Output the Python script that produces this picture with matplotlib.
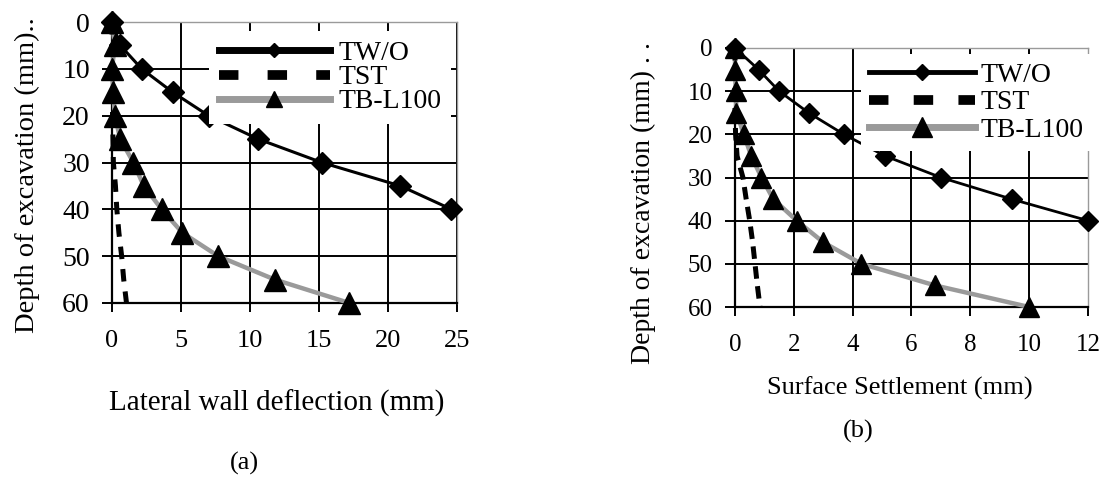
import matplotlib
matplotlib.use("Agg")
import matplotlib.pyplot as plt
from matplotlib.lines import Line2D

plt.rcParams['font.family'] = ['Liberation Serif', 'DejaVu Serif']

# ---------------- data ----------------
depth_full = [0, 5, 10, 15, 20, 25, 30, 35, 40, 45, 50, 55, 60]
depth_two = [0, 5, 10, 15, 20, 25, 30, 35, 40]

# (a) Lateral wall deflection (mm)
a_two = [0, 0.6, 2.15, 4.4, 7.0, 10.6, 15.2, 20.9, 24.6]
a_tst = [0, 0, 0, 0.02, 0.04, 0.07, 0.1, 0.25, 0.35, 0.5, 0.7, 0.85, 1.05]
a_tb = [0, 0.2, 0.0, 0.1, 0.2, 0.6, 1.55, 2.3, 3.6, 5.1, 7.7, 11.8, 17.2]

# (b) Surface settlement (mm)
b_two = [0, 0.8, 1.5, 2.5, 3.7, 5.1, 7.0, 9.4, 12.0]
b_tst = [0, 0, 0, 0, 0.02, 0.07, 0.27, 0.38, 0.5, 0.6, 0.68, 0.76, 0.85]
b_tb = [0, 0, 0.03, 0.05, 0.3, 0.55, 0.9, 1.3, 2.1, 3.0, 4.3, 6.8, 10.0]

series_names = ["TW/O", "TST", "TB-L100"]
y_ticks = [0, 10, 20, 30, 40, 50, 60]
a_xticks = [0, 5, 10, 15, 20, 25]
b_xticks = [0, 2, 4, 6, 8, 10, 12]

W, H = 1107, 497
fig = plt.figure(figsize=(W / 100, H / 100), dpi=100)


def rect(l, t, r, b):
    return [l / W, 1 - b / H, (r - l) / W, (b - t) / H]


GRAY = '#9a9a9a'


def setup(ax, xticks, ylabsize, xlabsize, xpad, ypad):
    ax.set_xlim(xticks[0], xticks[-1])
    ax.set_ylim(y_ticks[-1], y_ticks[0])
    ax.set_xticks(xticks)
    ax.set_yticks(y_ticks)
    ax.tick_params(axis='y', direction='out', length=7, width=1.4,
                   labelsize=ylabsize, pad=ypad)
    ax.tick_params(axis='x', direction='out', length=6.5, width=1.4,
                   labelsize=xlabsize, pad=xpad)
    ax.grid(True, color='black', linewidth=1.4)
    ax.get_ygridlines()[0].set_visible(False)
    ax.set_axisbelow(True)
    for s in ['left', 'bottom']:
        ax.spines[s].set_linewidth(1.6)
        ax.spines[s].set_color('black')
    for s in ['top', 'right']:
        ax.spines[s].set_linewidth(1.0)
        ax.spines[s].set_color(GRAY)


def make_handles(lw_line, ms_d, lw_dash, dash, lw_gray, ms_t):
    hs = [Line2D([], [], color='black', lw=lw_line, marker='D', ms=ms_d,
                 markevery=[1], mfc='black', mec='black'),
          Line2D([], [], color='black', lw=lw_dash, dashes=dash),
          Line2D([], [], color=GRAY, lw=lw_gray, marker='^', ms=ms_t,
                 markevery=[1], mfc='black', mec='black')]
    return hs


# ---------------- panel (a) ----------------
ax1 = fig.add_axes(rect(112, 22, 457, 303))
setup(ax1, a_xticks, 20, 19, 13, 9)
ax1.plot(a_tb, depth_full, color=GRAY, lw=3.2, marker='^', ms=16,
         mfc='black', mec='black', zorder=3, clip_on=False)
ax1.plot(a_tst, depth_full, color='black', lw=3.6, dashes=(2.5, 2.0),
         zorder=4, clip_on=False)
ax1.plot(a_two, depth_two, color='black', lw=2.2, marker='D', ms=11,
         mfc='black', mec='black', zorder=5, clip_on=False)

h_a = make_handles(5, 7, 7, (2, 3), 5, 12)
leg1 = ax1.legend(h_a, series_names, loc='upper left',
                  bbox_to_anchor=(209 / W, 1 - 31 / H),
                  bbox_transform=fig.transFigure, fontsize=20,
                  frameon=True, facecolor='white', edgecolor='none',
                  framealpha=1, fancybox=False, borderpad=0.35,
                  borderaxespad=0, handlelength=4.0, handletextpad=0.3,
                  labelspacing=-0.05, numpoints=1)
leg1.set_zorder(10)

fig.text(27 / W, 1 - 175 / H, "Depth of excavation (mm)..", rotation=90,
         ha='center', va='center', fontsize=20.5)
fig.text(277 / W, 1 - 403 / H, "Lateral wall deflection (mm)",
         ha='center', va='center', fontsize=21)
fig.text(244 / W, 1 - 463 / H, "(a)", ha='center', va='center', fontsize=19)

# ---------------- panel (b) ----------------
ax2 = fig.add_axes(rect(735, 48, 1088, 307))
setup(ax2, b_xticks, 18, 18, 13, 9)
ax2.get_xgridlines()[-1].set_visible(False)
ax2.plot(b_tb, depth_full, color=GRAY, lw=3.2, marker='^', ms=15,
         mfc='black', mec='black', zorder=3, clip_on=False)
ax2.plot(b_tst, depth_full, color='black', lw=3.6, dashes=(2.5, 1.5),
         zorder=4, clip_on=False)
ax2.plot(b_two, depth_two, color='black', lw=2.0, marker='D', ms=10,
         mfc='black', mec='black', zorder=5, clip_on=False)

h_b = make_handles(3.5, 8.5, 7, (2, 2.6), 5, 14)
leg2 = ax2.legend(h_b, series_names, loc='upper left',
                  bbox_to_anchor=(861 / W, 1 - 54 / H),
                  bbox_transform=fig.transFigure, fontsize=20,
                  frameon=True, facecolor='white', edgecolor='none',
                  framealpha=1, fancybox=False, borderpad=0.3,
                  borderaxespad=0, handlelength=3.8, handletextpad=0.2,
                  labelspacing=0.08, numpoints=1)
leg2.set_zorder(10)

fig.text(643 / W, 1 - 203 / H, "Depth of excavation (mm) . .", rotation=90,
         ha='center', va='center', fontsize=20)
fig.text(900 / W, 1 - 388 / H, "Surface Settlement (mm)",
         ha='center', va='center', fontsize=19)
fig.text(858 / W, 1 - 431 / H, "(b)", ha='center', va='center', fontsize=19)

fig.savefig("out.png", dpi=100)
